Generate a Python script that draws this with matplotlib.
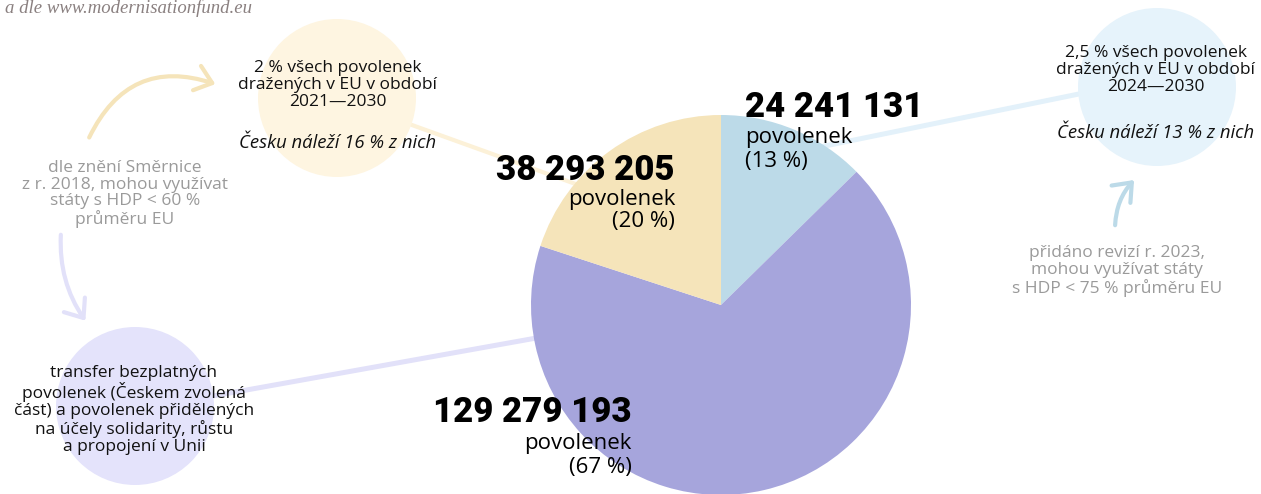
import matplotlib
matplotlib.use("Agg")
import matplotlib.pyplot as plt
from matplotlib.patches import Circle, FancyArrowPatch, ArrowStyle

# ---- data ----
slice_labels = ["Česku náleží 13 %", "transfer + solidarita", "Česku náleží 16 %"]
slice_values = [24241131, 129279193, 38293205]
value_texts = ["24 241 131", "129 279 193", "38 293 205"]
pct_texts = ["(13 %)", "(67 %)", "(20 %)"]
slice_colors = ["#BCDAE8", "#A6A5DC", "#F5E4BA"]

W, H = 1261, 494
fig = plt.figure(figsize=(W / 100, H / 100), dpi=100)
ax = fig.add_axes([0, 0, 1, 1])

def Y(y):
    return H - y

FONT = ["Open Sans", "DejaVu Sans"]
BOLD = ["Roboto", "DejaVu Sans"]
FS = 12.5
FSI = 13.3
LS = 1.07

# ---- connector lines (behind) ----
ax.plot([337, 620], [Y(98), Y(200)], color="#FCF1D8", lw=3, zorder=1, solid_capstyle="round")
ax.plot([1157, 820], [Y(78), Y(147)], color="#E3F1FA", lw=3.6, zorder=1, solid_capstyle="round")
ax.plot([135, 620], [Y(410), Y(323)], color="#E2E1F9", lw=3.6, zorder=1, solid_capstyle="round")

# ---- background circles ----
ax.add_patch(Circle((337, Y(98)), 79, color="#FEF5E1", zorder=2, lw=0))
ax.add_patch(Circle((1157, Y(87)), 79, color="#E6F3FB", zorder=2, lw=0))
ax.add_patch(Circle((135, Y(406)), 79, color="#E4E3FB", zorder=2, lw=0))

# ---- pie ----
wedges, _ = ax.pie(slice_values, colors=slice_colors, startangle=90, counterclock=False,
                   center=(721, Y(305)), radius=190, frame=True,
                   wedgeprops=dict(linewidth=0))
for w in wedges:
    w.set_zorder(3)
ax.set_xlim(0, W)
ax.set_ylim(0, H)
ax.set_aspect("equal")
ax.axis("off")

# ---- curved arrows ----
def arrow(p0, p1, rad, color):
    a = FancyArrowPatch((p0[0], Y(p0[1])), (p1[0], Y(p1[1])),
                        connectionstyle=f"arc3,rad={rad}",
                        arrowstyle=ArrowStyle("->", head_length=5, head_width=4),
                        mutation_scale=2.3, color=color, lw=3, zorder=2,
                        capstyle="round", joinstyle="round")
    ax.add_patch(a)

arrow((88, 140), (218, 85), -0.45, "#F5E4BA")
arrow((61, 232), (87, 323), 0.18, "#E2E1F9")
arrow((1115, 228), (1136, 178), -0.2, "#BCDAE8")

# ---- texts ----
ax.text(5, Y(13), "a dle www.modernisationfund.eu", fontsize=13.5, style="italic",
        family=["Liberation Serif", "DejaVu Serif"], color="#8A8080", va="baseline", ha="left", zorder=5)

ax.text(338, Y(85), "2 % všech povolenek\ndražených v EU v období\n2021—2030", fontsize=FS,
        family=FONT, ha="center", va="center", linespacing=LS, color="#111111", zorder=5)
ax.text(338, Y(143), "Česku náleží 16 % z nich", fontsize=FSI, style="italic",
        family=FONT, ha="center", va="center", color="#111111", zorder=5)

ax.text(1156, Y(70), "2,5 % všech povolenek\ndražených v EU v období\n2024—2030", fontsize=FS,
        family=FONT, ha="center", va="center", linespacing=LS, color="#111111", zorder=5)
ax.text(1156, Y(133), "Česku náleží 13 % z nich", fontsize=FSI, style="italic",
        family=FONT, ha="center", va="center", color="#111111", zorder=5)

ax.text(125, Y(194), "dle znění Směrnice\nz r. 2018, mohou využívat\nstáty s HDP < 60 %\nprůměru EU",
        fontsize=FS, family=FONT, ha="center", va="center", linespacing=LS, color="#9A9A9A", zorder=5)

ax.text(1117, Y(271), "přidáno revizí r. 2023,\nmohou využívat státy\ns HDP < 75 % průměru EU",
        fontsize=FS, family=FONT, ha="center", va="center", linespacing=LS, color="#9A9A9A", zorder=5)

ax.text(134, Y(410), "transfer bezplatných\npovolenek (Českem zvolená\nčást) a povolenek přidělených\nna účely solidarity, růstu\na propojení v Unii",
        fontsize=FS, family=FONT, ha="center", va="center", linespacing=LS, color="#111111", zorder=5)

# pie value labels
lab_pos = [(745, "left"), (632, "right"), (675, "right")]
lab_y = [(108, 138, 162), (413, 443, 467), (170, 200, 222)]
for i in range(3):
    x, ha = lab_pos[i]
    y0, y1, y2 = lab_y[i]
    ax.text(x, Y(y0), value_texts[i], fontsize=25, fontweight="black", family=BOLD,
            ha=ha, va="center", color="black", zorder=6)
    ax.text(x, Y(y1), "povolenek", fontsize=16, family=FONT, ha=ha, va="center",
            color="black", zorder=6)
    ax.text(x, Y(y2), pct_texts[i], fontsize=16, family=FONT, ha=ha, va="center",
            color="black", zorder=6)

fig.savefig("out.png", dpi=100, facecolor="white")
